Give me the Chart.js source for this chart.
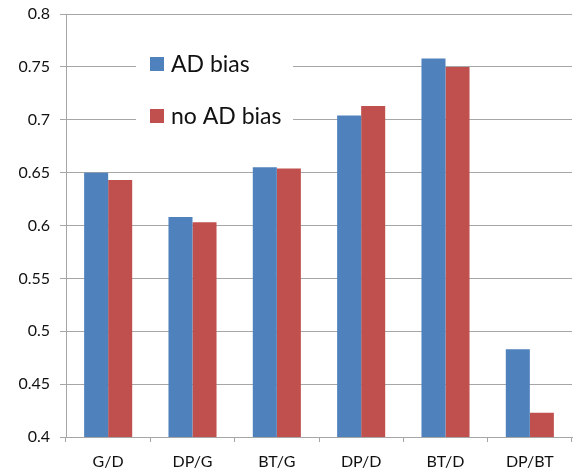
<!DOCTYPE html>
<html>
<head>
<meta charset="utf-8">
<script src="https://cdn.jsdelivr.net/npm/chart.js@4"></script>
<style>
  html, body { margin: 0; padding: 0; background: #fff; }
  #wrap { width: 579px; height: 474px; }
</style>
</head>
<body>
<div id="wrap"><canvas id="chart"></canvas></div>
<script>
const categories = ['G/D', 'DP/G', 'BT/G', 'DP/D', 'BT/D', 'DP/BT'];
const adBias = [0.650, 0.608, 0.655, 0.704, 0.758, 0.483];
const noAdBias = [0.643, 0.603, 0.654, 0.713, 0.750, 0.423];
const seriesNames = ['AD bias', 'no AD bias'];
const yTicks = [0.4, 0.45, 0.5, 0.55, 0.6, 0.65, 0.7, 0.75, 0.8];

const blue = '#4F81BD';
const red = '#C0504D';
const gridGray = '#A6A6A6';

// legend sits inside the plot area, on a white box that hides the grid lines
const insideLegend = {
  id: 'insideLegend',
  afterDraw(chart) {
    const ctx = chart.ctx;
    const area = chart.chartArea;
    const x0 = area.left + 70;
    const y0 = area.top + 28;
    ctx.save();
    ctx.fillStyle = '#fff';
    ctx.fillRect(x0, y0, 157, 110);
    ctx.font = '23px Lato';
    ctx.textBaseline = 'middle';
    const colors = [blue, red];
    seriesNames.forEach((name, i) => {
      const cy = y0 + 22 + i * 52;
      ctx.fillStyle = colors[i];
      ctx.fillRect(x0 + 14, cy - 7, 14, 14);
      ctx.fillStyle = '#111';
      ctx.fillText(name, x0 + 35, cy + 1);
    });
    ctx.restore();
  }
};

new Chart(document.getElementById('chart'), {
  type: 'bar',
  data: {
    labels: categories,
    datasets: [
      { label: seriesNames[0], data: adBias, backgroundColor: blue },
      { label: seriesNames[1], data: noAdBias, backgroundColor: red }
    ]
  },
  options: {
    responsive: true,
    maintainAspectRatio: false,
    animation: false,
    layout: { padding: { top: 14, right: 7 } },
    datasets: {
      bar: { categoryPercentage: 0.57, barPercentage: 1.0 }
    },
    plugins: {
      legend: { display: false },
      tooltip: { enabled: false }
    },
    scales: {
      x: {
        grid: {
          offset: true,
          drawOnChartArea: false,
          color: gridGray,
          tickLength: 5,
          lineWidth: 1
        },
        border: { color: gridGray, width: 1 },
        ticks: {
          color: '#111',
          font: { family: 'Lato', size: 16 },
          padding: 10,
          maxRotation: 0
        },
        afterFit(scale) { scale.height = 37; }
      },
      y: {
        min: 0.4,
        max: 0.8,
        afterBuildTicks(scale) {
          scale.ticks = yTicks.map(v => ({ value: v }));
        },
        grid: {
          color: gridGray,
          tickLength: 6,
          lineWidth: 1
        },
        border: { color: gridGray, width: 1 },
        ticks: {
          color: '#111',
          font: { family: 'Lato', size: 16 },
          padding: 10,
          callback: v => String(Math.round(v * 100) / 100)
        },
        afterFit(scale) {
          scale.width = 66;
          scale.paddingTop = 0;
          scale.paddingBottom = 0;
        }
      }
    }
  },
  plugins: [insideLegend]
});
</script>
</body>
</html>
